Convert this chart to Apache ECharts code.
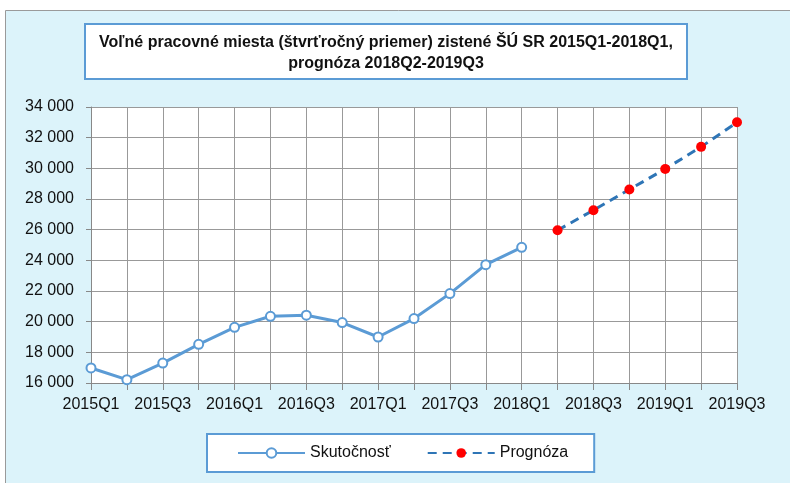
<!DOCTYPE html>
<html>
<head>
<meta charset="utf-8">
<script src="https://cdn.jsdelivr.net/npm/echarts@6/dist/echarts.min.js"></script>
<style>
  html, body { margin: 0; padding: 0; background: #fff; }
  #chart { width: 790px; height: 483px; }
</style>
</head>
<body>
<div id="chart"></div>
<script>
// 数据放在最上面
let quarters = ['2015Q1', '2015Q2', '2015Q3', '2015Q4', '2016Q1', '2016Q2', '2016Q3', '2016Q4',
    '2017Q1', '2017Q2', '2017Q3', '2017Q4', '2018Q1', '2018Q2', '2018Q3', '2018Q4',
    '2019Q1', '2019Q2', '2019Q3'];
let actual = [16980, 16220, 17300, 18520, 19630, 20350, 20420, 19940,
    19000, 20200, 21830, 23720, 24850, null, null, null, null, null, null];
let forecast = [null, null, null, null, null, null, null, null,
    null, null, null, null, null, 25960, 27270, 28620, 29960, 31400, 33000];
let yTicks = [16000, 34000, 2000]; // min, max, interval

let titleText = 'Voľné pracovné miesta (štvrťročný priemer) zistené ŠÚ SR 2015Q1-2018Q1,\nprognóza 2018Q2-2019Q3';

// 千位用空格分开
function fmt(v) {
    return String(v).replace(/\B(?=(\d{3})+(?!\d))/g, ' ');
}

let myChart = echarts.init(document.getElementById('chart'));
let font = 'Liberation Sans, Arial, sans-serif';

let option = {
    animation: false,
    graphic: [{
        type: 'rect',
        z: -10,
        shape: { x: 5.5, y: 10.5, width: 820, height: 500 },
        style: { fill: '#dcf3fa', stroke: '#9a9a9a', lineWidth: 1 }
    }],
    title: {
        text: titleText,
        // textAlign为center时，left大约是标题框的中心
        left: 372,
        top: 24,
        padding: [8, 14, 5, 14],
        backgroundColor: '#fff',
        borderColor: '#5b9bd5',
        borderWidth: 2,
        textAlign: 'center',
        textStyle: {
            fontFamily: font,
            fontSize: 16,
            fontWeight: 'bold',
            color: '#111',
            lineHeight: 21
        }
    },
    legend: {
        left: 207,
        top: 434,
        padding: [11, 26, 11, 30],
        backgroundColor: '#fff',
        borderColor: '#5b9bd5',
        borderWidth: 2,
        itemWidth: 67,
        itemHeight: 12,
        itemGap: 36,
        textStyle: { fontFamily: font, fontSize: 16, color: '#111' },
        data: ['Skutočnosť', 'Prognóza']
    },
    grid: {
        left: 91,
        right: 53,
        top: 107,
        bottom: 100,
        show: true,
        backgroundColor: '#fff',
        borderWidth: 0
    },
    xAxis: {
        type: 'category',
        data: quarters,
        boundaryGap: false,
        axisLine: { lineStyle: { color: '#888', width: 1 } },
        axisTick: { interval: 0, length: 7, lineStyle: { color: '#888' } },
        axisLabel: {
            interval: 1,
            margin: 14,
            fontFamily: font,
            fontSize: 16,
            color: '#111'
        },
        splitLine: { show: true, interval: 0, lineStyle: { color: '#999', width: 1 } }
    },
    yAxis: {
        type: 'value',
        min: yTicks[0],
        max: yTicks[1],
        interval: yTicks[2],
        axisLine: { show: true, lineStyle: { color: '#888' } },
        axisTick: { show: true, length: 5, lineStyle: { color: '#888' } },
        axisLabel: {
            formatter: fmt,
            margin: 17,
            fontFamily: font,
            fontSize: 16,
            color: '#111'
        },
        splitLine: { lineStyle: { color: '#999', width: 1 } }
    },
    series: [
        {
            name: 'Skutočnosť',
            type: 'line',
            data: actual,
            symbol: 'emptyCircle',
            symbolSize: 9,
            lineStyle: { width: 3, color: '#5b9bd5' },
            itemStyle: { color: '#5b9bd5', borderWidth: 1.5 }
        },
        {
            name: 'Prognóza',
            type: 'line',
            data: forecast,
            symbol: 'circle',
            symbolSize: 10,
            lineStyle: { width: 3, color: '#2e75b6', type: [9, 6] },
            itemStyle: { color: '#ff0000', borderWidth: 0 }
        }
    ]
};
myChart.setOption(option);
</script>
</body>
</html>
